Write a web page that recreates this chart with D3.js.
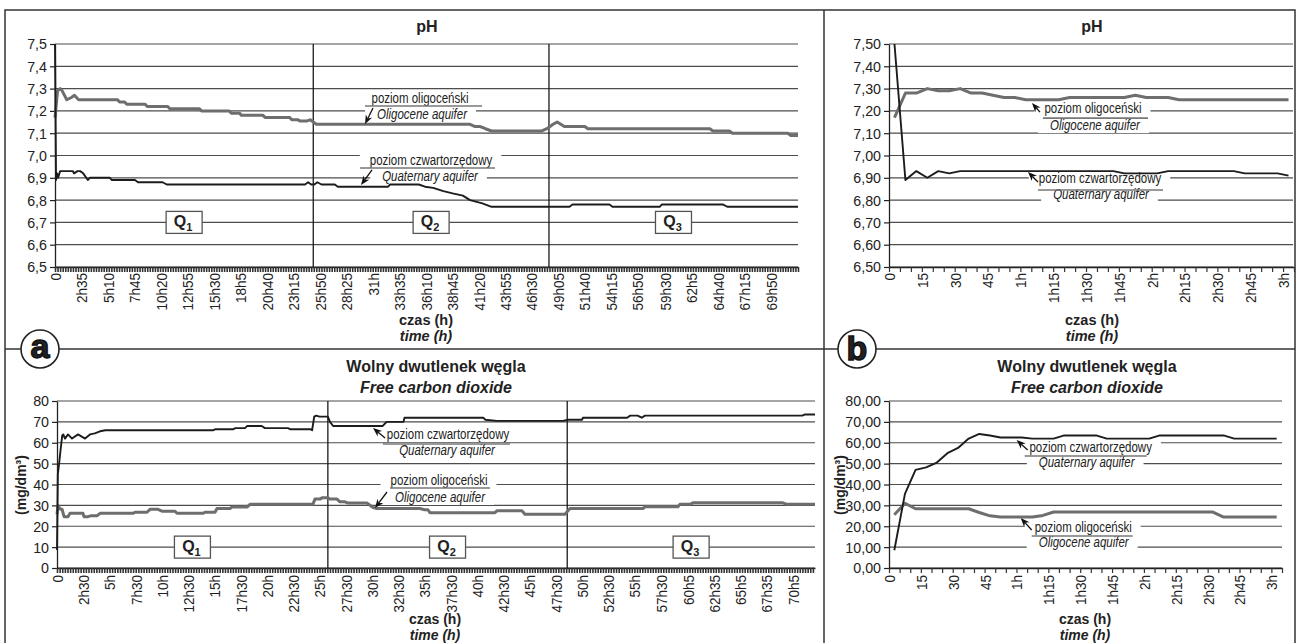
<!DOCTYPE html>
<html><head><meta charset="utf-8">
<script src="https://cdn.jsdelivr.net/npm/d3@7"></script>
<style>
body{margin:0;background:#fff;}
svg{display:block;}
text{font-family:"Liberation Sans",Arial,sans-serif;fill:#222;}
</style></head><body>
<svg id="c" width="1298" height="643"></svg>
<script>
// ---------------- DATA ----------------
const phTicks = [6.5,6.6,6.7,6.8,6.9,7.0,7.1,7.2,7.3,7.4,7.5];
const co2Ticks = [0,10,20,30,40,50,60,70,80];

const xLabelsA = ["0","2h35","5h10","7h45","10h20","12h55","15h30","18h5","20h40","23h15","25h50","28h25","31h","33h35","36h10","38h45","41h20","43h55","46h30","49h05","51h40","54h15","56h50","59h30","62h5","64h40","67h15","69h50"];
const xLabelsC = ["0","2h30","5h","7h30","10h","12h30","15h","17h30","20h","22h30","25h","27h30","30h","32h30","35h","37h30","40h","42h30","45h","47h30","50h","52h30","55h","57h30","60h5","62h35","65h5","67h35","70h5"];
const xLabelsB = ["0","15","30","45","1h","1h15","1h30","1h45","2h","2h15","2h30","2h45","3h"];

// (a) pH, [time h, pH]
const phOligoA = [[0,7.17],[0.25,7.29],[0.5,7.30],[0.7,7.29],[1.15,7.25],[1.6,7.26],[1.9,7.27],[2.3,7.25],[6.1,7.25],[6.3,7.24],[6.8,7.24],[7.0,7.23],[8.8,7.23],[9.0,7.22],[11.0,7.22],[11.2,7.21],[14.1,7.21],[14.3,7.20],[17.0,7.20],[17.2,7.19],[18.0,7.19],[18.2,7.18],[20.3,7.18],[20.5,7.17],[22.9,7.17],[23.1,7.16],[23.7,7.16],[23.9,7.155],[24.6,7.155],[24.9,7.16],[25.2,7.15],[25.5,7.14],[40.5,7.14],[41.0,7.13],[41.5,7.13],[42.0,7.12],[42.6,7.11],[47.5,7.11],[48.0,7.12],[48.6,7.14],[49.0,7.15],[49.7,7.13],[51.7,7.13],[52.0,7.12],[63.9,7.12],[64.2,7.11],[65.8,7.11],[66.1,7.10],[71.5,7.10],[71.8,7.09],[72.5,7.09]];
const phQuatA = [[0,7.5],[0.1,6.89],[0.2,6.92],[0.3,6.90],[0.5,6.93],[1.75,6.93],[1.85,6.92],[2.2,6.93],[2.45,6.93],[2.75,6.92],[3.2,6.89],[3.4,6.90],[5.35,6.90],[5.55,6.89],[7.8,6.89],[8.1,6.88],[10.5,6.88],[10.9,6.87],[24.4,6.87],[24.7,6.88],[25.0,6.87],[25.3,6.87],[25.6,6.88],[26.0,6.87],[27.3,6.87],[27.6,6.86],[32.5,6.86],[32.7,6.87],[35.5,6.87],[36.1,6.86],[36.9,6.855],[37.9,6.84],[38.8,6.83],[39.8,6.82],[40.5,6.80],[41.7,6.785],[42.6,6.77],[50.2,6.77],[50.5,6.78],[54.1,6.78],[54.4,6.77],[59.0,6.77],[59.2,6.78],[65.2,6.78],[65.6,6.77],[72.5,6.77]];

// (a) free CO2, [time h, mg/dm3]
const co2QuatA = [[0,8.6],[0.08,45],[0.2,50],[0.35,57],[0.5,63.5],[0.6,64],[0.76,62],[1.05,64],[1.43,62],[2.0,64],[2.67,62],[3.14,64],[3.6,64.5],[4.1,65.5],[4.6,66],[14.9,66],[15.1,66.5],[16.8,66.5],[17.0,67],[17.9,67],[18.1,68],[19.5,68],[19.8,67],[22.0,67],[22.2,66.5],[24.1,66.5],[24.3,66],[24.5,72.5],[24.7,73],[25.0,72.5],[25.8,72.5],[26.0,70],[26.3,68],[31.0,68],[31.2,69],[31.4,70],[33.0,70],[33.1,72],[40.6,72],[40.8,71],[41.9,70.5],[48.2,70.5],[48.7,71],[50.0,71],[50.1,72],[54.3,72],[54.6,73],[55.3,73],[55.7,72],[56.0,73],[71.0,73],[71.2,73.5],[72.2,73.5]];
const co2OligoA = [[0,25.7],[0.1,30],[0.3,28.2],[0.48,28.2],[0.67,24.6],[1.05,24.6],[1.24,26.2],[2.48,26.2],[2.57,24.6],[2.95,24.6],[3.2,25],[3.8,25],[4.1,26.2],[7.24,26.2],[7.43,26.7],[8.57,26.7],[8.86,28.1],[9.62,28.1],[10.0,27.2],[11.24,27.2],[11.43,26.2],[13.9,26.2],[14.1,26.7],[15.05,26.7],[15.24,28.5],[16.48,28.5],[16.67,29.2],[18.1,29.2],[18.38,30.5],[24.38,30.5],[24.57,33],[25.05,33],[25.24,33.6],[25.8,33.6],[26.0,33],[26.67,33],[26.95,31.7],[27.43,31.7],[27.71,31.1],[29.52,31.1],[30.1,29],[30.48,28.5],[34.57,28.5],[35.0,27.9],[35.33,27.9],[35.52,26.5],[41.71,26.5],[41.9,27.4],[44.29,27.4],[44.57,25.8],[48.38,25.8],[48.86,28.5],[55.81,28.5],[56.0,29.3],[59.14,29.3],[59.33,30.5],[60.29,30.5],[60.57,31.2],[69.14,31.2],[69.52,30.5],[72.2,30.5]];

// phase boundaries (h) and names
const phaseBoundsA = [25.2, 48.2];
const phaseBoundsC = [25.8, 48.6];
const phaseNames = ["1","2","3"];

// (b) sampling times (min) and values
const timesB = [2.5,7.5,12.5,17.5,22.5,27.5,32.5,37.5,42.5,47.5,52.5,57.5,62.5,67.5,72.5,77.5,82.5,87.5,92.5,97.5,102.5,107.5,112.5,117.5,122.5,127.5,132.5,137.5,142.5,147.5,152.5,157.5,162.5,167.5,172.5,177.5,182.5];
const phOligoB = [7.17,7.28,7.28,7.30,7.29,7.29,7.30,7.28,7.28,7.27,7.26,7.26,7.25,7.25,7.25,7.25,7.26,7.26,7.26,7.26,7.26,7.26,7.27,7.26,7.26,7.26,7.25,7.25,7.25,7.25,7.25,7.25,7.25,7.25,7.25,7.25,7.25];
const phQuatB  = [7.50,6.89,6.93,6.90,6.93,6.92,6.93,6.93,6.93,6.93,6.93,6.93,6.93,6.93,6.93,6.93,6.93,6.93,6.93,6.93,6.93,6.92,6.92,6.92,6.92,6.93,6.93,6.93,6.93,6.93,6.93,6.93,6.92,6.92,6.92,6.92,6.91];
const co2QuatB = [8.5,35.5,47,48.2,50.5,55,57.5,62,64.2,63.5,62.5,62.5,62.5,62,62,62,63.5,63.5,63.5,63.5,62,62,62,62,62,63.5,63.5,63.5,63.5,63.5,63.5,63.5,62,62,62,62,62];
const co2OligoB = [25.5,31,28.4,28.4,28.4,28.4,28.4,28.4,26.6,25,24.4,24.4,24.4,24.4,25.2,26.8,26.8,26.8,26.8,26.8,26.8,26.8,26.8,26.8,26.8,26.8,26.8,26.8,26.8,26.8,26.8,24.4,24.4,24.4,24.4,24.4,24.4];

const labelOligoPL = "poziom oligoceński", labelOligoEN = "Oligocene aquifer";
const labelQuatPL = "poziom czwartorzędowy", labelQuatEN = "Quaternary aquifer";

// ---------------- DRAWING ----------------
const svg = d3.select("#c");
const GRAY = "#6e6e6e", BLACK = "#1c1c1c";

const gFrame = svg.append("g");
gFrame.append("rect").attr("x",5).attr("y",10).attr("width",1290).attr("height",650)
  .attr("fill","none").attr("stroke","#333").attr("stroke-width",1.5);
gFrame.append("line").attr("x1",824).attr("x2",824).attr("y1",10).attr("y2",660).attr("stroke","#333").attr("stroke-width",1.5);
gFrame.append("line").attr("x1",5).attr("x2",1295).attr("y1",349).attr("y2",349).attr("stroke","#333").attr("stroke-width",1.5);

function parseHours(s){ if(s==="0") return 0; const m=s.match(/^(\d+)h(\d*)$/); return +m[1] + (m[2]?+m[2]:0)/60; }
function parseMin(s){ const m=s.match(/^(\d+)h(\d*)$/); if(!m) return +s; return +m[1]*60 + (m[2]?+m[2]:0); }
const comma = f => v => d3.format(f)(v).replace(".", ",");
function condense(sel, f){
  sel.each(function(){ const L=this.getComputedTextLength(); d3.select(this).attr("textLength",L*f).attr("lengthAdjust","spacingAndGlyphs"); this.__w = L*f; });
}

function chart(cfg){
  const x = d3.scaleLinear().domain(cfg.xd).range(cfg.xr);
  const y = d3.scaleLinear().domain(cfg.yd).range(cfg.yr);
  const g = svg.append("g");
  const gGrid = g.append("g"), gMask = g.append("g"), gLines = g.append("g"), gTop = g.append("g");
  // gridlines
  gGrid.selectAll("line.grid").data(cfg.yTicks).join("line")
    .attr("x1",cfg.xr[0]).attr("x2",cfg.gridRight).attr("y1",d=>y(d)).attr("y2",d=>y(d))
    .attr("stroke","#4d4d4d").attr("stroke-width",1.2);
  // y axis
  const ya = gGrid.append("g").attr("transform",`translate(${cfg.xr[0]},0)`)
    .call(d3.axisLeft(y).tickValues(cfg.yTicks).tickFormat(cfg.yFmt).tickSize(5).tickSizeOuter(0).tickPadding(3));
  ya.select(".domain").attr("stroke","#222").attr("stroke-width",1.3);
  ya.selectAll(".tick line").attr("stroke","#222").attr("stroke-width",1.2);
  ya.selectAll("text").style("font-size","15.5px").style("font-family",'"Liberation Sans",Arial,sans-serif').attr("fill","#222");
  condense(ya.selectAll("text"), 0.92);
  // minor x ticks
  const xm = gGrid.append("g").attr("transform",`translate(0,${cfg.yr[0]})`)
    .call(d3.axisBottom(x).tickValues(cfg.minor).tickFormat("").tickSize(5).tickSizeOuter(0));
  xm.select(".domain").attr("stroke","#222").attr("stroke-width",1.5);
  xm.selectAll(".tick line").attr("stroke","#333").attr("stroke-width",cfg.minorW);
  // x labels
  const xl = gGrid.append("g").attr("transform",`translate(0,${cfg.yr[0]})`)
    .call(d3.axisBottom(x).tickValues(cfg.xLabels.map(cfg.parse)).tickFormat((d,i)=>cfg.xLabels[i]).tickSize(0).tickSizeOuter(0));
  xl.select(".domain").remove();
  xl.selectAll("text").attr("transform","rotate(-90)").attr("text-anchor","end")
    .attr("x",-cfg.labelGap).attr("y",0).attr("dy","0.36em")
    .style("font-size","15px").style("font-family",'"Liberation Sans",Arial,sans-serif').attr("fill","#222");
  condense(xl.selectAll("text"), 0.9);
  // phase lines and Q boxes
  if(cfg.phases){
    const b = cfg.phases;
    gGrid.selectAll("line.ph").data(b).join("line")
      .attr("x1",d=>x(d)).attr("x2",d=>x(d)).attr("y1",cfg.yr[1]).attr("y2",cfg.yr[0])
      .attr("stroke","#1a1a1a").attr("stroke-width",1.3);
    const edges = [cfg.xd[0], ...b, cfg.xd[1]];
    const mids = phaseNames.map((n,i)=>({n, m:(edges[i]+edges[i+1])/2}));
    const qg = gTop.selectAll("g.q").data(mids).join("g")
      .attr("transform",d=>`translate(${x(d.m)},${y(cfg.qLevel)})`);
    qg.append("rect").attr("x",-18).attr("y",-11).attr("width",36).attr("height",22)
      .attr("fill","#fff").attr("stroke","#555").attr("stroke-width",1.3);
    const qt = qg.append("text").attr("text-anchor","middle").attr("x",-1).attr("y",5).style("font-weight","bold").style("font-size","16px");
    qt.append("tspan").text("Q");
    qt.append("tspan").attr("dy",4).style("font-size","11px").text(d=>d.n);
  }
  // series
  const line = d3.line().x(d=>x(d[0])).y(d=>y(d[1]));
  cfg.series.forEach(s=>{
    gLines.append("path").datum(s.data).attr("d",line).attr("fill","none")
      .attr("stroke",s.color).attr("stroke-width",s.w).attr("stroke-linejoin","round");
  });
  // annotations
  cfg.annos.forEach(a=>{
    const tx = x(a.tip[0]), ty = y(a.tip[1]);
    const t1 = gTop.append("text").attr("x",tx+a.t1[0]).attr("y",ty+a.t1[1]).attr("text-anchor","middle")
      .style("font-size","14px").attr("fill","#2a2a2a").text(a.l1);
    const t2 = gTop.append("text").attr("x",tx+a.t2[0]).attr("y",ty+a.t2[1]).attr("text-anchor","middle")
      .style("font-size","14px").style("font-style","italic").attr("fill","#2a2a2a").text(a.l2);
    condense(t1, 0.82); condense(t2, 0.82);
    [t1,t2].forEach((t,i)=>{
      const bb = t.node().getBBox();
      const w = t.node().__w, cx = +t.attr("x");
      const padL = i===0 ? 10 : 12;
      gMask.append("rect").attr("x",cx-w/2-padL).attr("y",bb.y+1).attr("width",w+padL+9).attr("height",bb.height-1).attr("fill","#fff");
    });
    gTop.append("line").attr("x1",tx+a.ul[0]).attr("x2",tx+a.ul[1]).attr("y1",ty+a.ul[2]).attr("y2",ty+a.ul[2])
      .attr("stroke","#777").attr("stroke-width",1.6);
    // arrow
    const x0 = tx+a.tail[0], y0 = ty+a.tail[1];
    const dx = tx-x0, dy = ty-y0, L = Math.hypot(dx,dy), ux=dx/L, uy=dy/L;
    const hl = 9, hw = 3.6;
    gTop.append("line").attr("x1",x0).attr("y1",y0).attr("x2",tx-ux*hl*0.7).attr("y2",ty-uy*hl*0.7)
      .attr("stroke","#111").attr("stroke-width",1.3);
    const bx = tx-ux*hl, by = ty-uy*hl;
    gTop.append("path").attr("d",`M${tx},${ty}L${bx-uy*hw},${by+ux*hw}L${tx-ux*hl*0.7},${ty-uy*hl*0.7}L${bx+uy*hw},${by-ux*hw}Z`).attr("fill","#111");
  });
  // titles
  cfg.titles.forEach(t=>{
    gTop.append("text").attr("x",t.x).attr("y",t.y).attr("text-anchor","middle")
      .style("font-weight","bold").style("font-style",t.it?"italic":"normal").style("font-size",t.fs+"px").text(t.s);
  });
  if(cfg.ylab){
    gTop.append("text").attr("transform",`translate(${cfg.ylab[0]},${cfg.ylab[1]}) rotate(-90)`).attr("text-anchor","middle")
      .style("font-weight","bold").style("font-size","14px").text("(mg/dm³)");
  }
}

const hMinor = (end)=>d3.range(0,end+1e-9,0.25);
const mMinor = d3.range(0,186,5);

chart({xd:[0,72.5], xr:[55,798], yd:[6.5,7.5], yr:[267,44], gridRight:798,
  yTicks:phTicks, yFmt:comma(".1f"), xLabels:xLabelsA, parse:parseHours, minor:hMinor(72.5), minorW:1.6, labelGap:6,
  phases:phaseBoundsA, qLevel:6.7,
  series:[{data:phOligoA,color:GRAY,w:3},{data:phQuatA,color:BLACK,w:1.9}],
  annos:[
    {tip:[30.25,7.141], tail:[8,-16], l1:labelOligoPL, t1:[55,-21], l2:labelOligoEN, t2:[57,-5], ul:[0,117,-18]},
    {tip:[29.86,6.868], tail:[11,-15], l1:labelQuatPL, t1:[70,-20], l2:labelQuatEN, t2:[69,-4], ul:[-1,134,-17]}
  ],
  titles:[{s:"pH",x:427,y:32,fs:16},{s:"czas (h)",x:426,y:325,fs:14.5},{s:"time (h)",x:426,y:341,fs:14.5,it:true}]
});

chart({xd:[0,185], xr:[889,1294], yd:[6.5,7.5], yr:[267,44], gridRight:1293,
  yTicks:phTicks, yFmt:comma(".2f"), xLabels:xLabelsB, parse:parseMin, minor:mMinor, minorW:1.2, labelGap:6,
  series:[{data:timesB.map((t,i)=>[t,phOligoB[i]]),color:GRAY,w:3},{data:timesB.map((t,i)=>[t,phQuatB[i]]),color:BLACK,w:1.9}],
  annos:[
    {tip:[65.3,7.235], tail:[8,9], l1:labelOligoPL, t1:[61,10], l2:labelOligoEN, t2:[63,27], ul:[11,116,15]},
    {tip:[63.5,6.926], tail:[10,10], l1:labelQuatPL, t1:[72,11], l2:labelQuatEN, t2:[73,27], ul:[10,135,18]}
  ],
  titles:[{s:"pH",x:1092,y:32,fs:16},{s:"czas (h)",x:1092,y:325,fs:14.5},{s:"time (h)",x:1092,y:341,fs:14.5,it:true}]
});

chart({xd:[0,72.2], xr:[57,815], yd:[0,80], yr:[568,401], gridRight:815,
  yTicks:co2Ticks, yFmt:d3.format("d"), xLabels:xLabelsC, parse:parseHours, minor:hMinor(72.2), minorW:1.6, labelGap:7,
  phases:phaseBoundsC, qLevel:10,
  series:[{data:co2OligoA,color:GRAY,w:3},{data:co2QuatA,color:BLACK,w:1.9}],
  annos:[
    {tip:[30.1,67.07], tail:[12,10], l1:labelQuatPL, t1:[75,11], l2:labelQuatEN, t2:[74,27], ul:[10,137,16]},
    {tip:[30.29,28.74], tail:[12,-16], l1:labelOligoPL, t1:[64,-23], l2:labelOligoEN, t2:[65,-6], ul:[15,115,-20]}
  ],
  titles:[{s:"Wolny dwutlenek węgla",x:436,y:372,fs:16},{s:"Free carbon dioxide",x:436,y:393,fs:16,it:true},
          {s:"czas (h)",x:435,y:624,fs:14},{s:"time (h)",x:435,y:640,fs:14,it:true}],
  ylab:[26,485]
});

chart({xd:[0,185], xr:[889,1282], yd:[0,80], yr:[568,401], gridRight:1282,
  yTicks:co2Ticks, yFmt:comma(".2f"), xLabels:xLabelsB, parse:parseMin, minor:mMinor, minorW:1.2, labelGap:7,
  series:[{data:timesB.map((t,i)=>[t,co2OligoB[i]]),color:GRAY,w:3},{data:timesB.map((t,i)=>[t,co2QuatB[i]]),color:BLACK,w:1.9}],
  annos:[
    {tip:[60.1,61.3], tail:[11,10], l1:labelQuatPL, t1:[74,12], l2:labelQuatEN, t2:[70,27], ul:[8,130,16]},
    {tip:[62.0,23.95], tail:[11,12], l1:labelOligoPL, t1:[62.5,14], l2:labelOligoEN, t2:[63,29], ul:[11,112,18]}
  ],
  titles:[{s:"Wolny dwutlenek węgla",x:1087,y:372,fs:16},{s:"Free carbon dioxide",x:1087,y:393,fs:16,it:true},
          {s:"czas (h)",x:1085,y:624,fs:14},{s:"time (h)",x:1085,y:640,fs:14,it:true}],
  ylab:[845,485]
});

// panel badges
const badges = [{s:"a",x:40,y:349},{s:"b",x:857,y:349}];
const bg = svg.selectAll("g.badge").data(badges).join("g").attr("transform",d=>`translate(${d.x},${d.y})`);
bg.append("circle").attr("r",19).attr("fill","#fff").attr("stroke","#222").attr("stroke-width",1.6);
bg.append("text").attr("text-anchor","middle").attr("y",d=>d.s==="a"?9:11).style("font-weight","bold")
  .style("font-size","34px").attr("fill","#111").attr("stroke","#111").attr("stroke-width",1.4).text(d=>d.s);
</script>
</body></html>
